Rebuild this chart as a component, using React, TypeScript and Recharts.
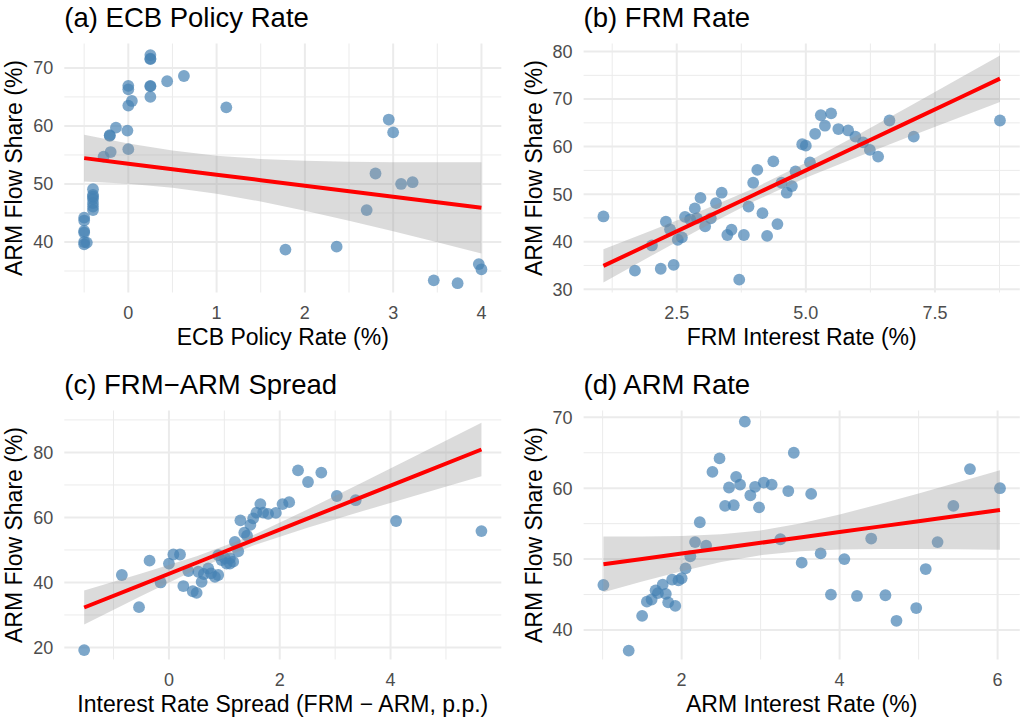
import React from 'react';
import { ComposedChart, Scatter, Area, Line, XAxis, YAxis, CartesianGrid } from 'recharts';

const FONT = '"Liberation Sans", Arial, Helvetica, sans-serif';

// ---------- Panel (a) ECB Policy Rate ----------
const aX = [-0.5, -0.5, -0.5, -0.5, -0.5, -0.5, -0.47, -0.4, -0.4, -0.4, -0.4, -0.4, -0.4, -0.4, -0.28, -0.2, -0.21, -0.21, -0.14, -0.01, 0, 0, 0.04, 0, 0, 0.25, 0.25, 0.25, 0.25, 0.25, 0.25, 0.44, 0.63, 1.11, 1.78, 2.36, 2.7, 2.8, 2.95, 3.0, 3.09, 3.22, 3.46, 3.73, 3.97, 4.0];
const aY = [44.2, 43.7, 41.9, 41.6, 40.0, 39.6, 39.9, 49.1, 48.1, 47.8, 47.4, 46.7, 46.1, 45.5, 54.7, 55.5, 58.3, 58.4, 59.7, 59.2, 56.0, 63.5, 64.3, 66.3, 66.9, 65.0, 66.8, 66.9, 71.5, 71.6, 72.2, 67.7, 68.6, 63.2, 38.7, 39.2, 45.5, 51.8, 61.1, 58.9, 50.0, 50.3, 33.4, 32.9, 36.2, 35.3];
const aBandX = [-0.5, 0, 0.5, 1, 1.5, 2, 2.5, 3, 3.5, 4];
const aBandLo = [50.43, 50.03, 49.35, 48.33, 46.98, 45.4, 43.66, 41.84, 39.96, 38.04];
const aBandHi = [58.47, 56.97, 55.75, 54.87, 54.32, 54.0, 53.84, 53.76, 53.74, 53.76];
const aFit = [54.45, 53.5, 52.55, 51.6, 50.65, 49.7, 48.75, 47.8, 46.85, 45.9];
const aXTicks = [0, 1, 2, 3, 4];
const aXTickLabels = ['0', '1', '2', '3', '4'];
const aXMinor = [-0.5, 0.5, 1.5, 2.5, 3.5];
const aYTicks = [40, 50, 60, 70];
const aYMinor = [35, 45, 55, 65];

// ---------- Panel (b) FRM Rate ----------
const bX = [1.08, 1.69, 2.02, 2.19, 2.29, 2.37, 2.44, 2.52, 2.6, 2.66, 2.76, 2.85, 2.89, 2.96, 3.05, 3.16, 3.26, 3.37, 3.48, 3.56, 3.71, 3.8, 3.89, 3.98, 4.06, 4.16, 4.25, 4.37, 4.45, 4.53, 4.63, 4.73, 4.8, 4.93, 5.0, 5.08, 5.18, 5.29, 5.37, 5.49, 5.63, 5.82, 5.96, 6.11, 6.24, 6.4, 6.62, 7.09, 8.76];
const bY = [45.3, 33.9, 39.2, 34.3, 44.2, 42.6, 35.1, 40.4, 40.9, 45.2, 44.7, 47.0, 44.9, 49.2, 43.2, 44.9, 48.1, 50.3, 41.4, 42.5, 32.0, 41.4, 47.4, 52.4, 55.1, 46.0, 41.2, 56.9, 43.7, 52.4, 50.3, 51.7, 54.8, 60.5, 60.2, 56.7, 62.7, 66.6, 64.4, 67.0, 63.7, 63.4, 62.1, 60.9, 59.3, 57.9, 65.5, 62.1, 65.5];
const bBandX = [1.08, 2, 3, 4, 5, 6, 7, 8, 8.76];
const bBandLo = [31.4, 36.97, 42.91, 48.51, 53.43, 57.84, 62.08, 66.25, 69.4];
const bBandHi = [38.4, 42.27, 46.59, 51.25, 56.59, 62.44, 68.46, 74.55, 79.2];
const bFit = [34.9, 39.62, 44.75, 49.88, 55.01, 60.14, 65.27, 70.4, 74.3];
const bXTicks = [2.5, 5, 7.5];
const bXTickLabels = ['2.5', '5.0', '7.5'];
const bXMinor = [1.25, 3.75, 6.25, 8.75];
const bYTicks = [30, 40, 50, 60, 70, 80];
const bYMinor = [35, 45, 55, 65, 75];

// ---------- Panel (c) FRM–ARM Spread ----------
const cX = [-1.53, -0.85, -0.54, -0.35, -0.15, 0.0, 0.08, 0.2, 0.26, 0.35, 0.43, 0.5, 0.53, 0.59, 0.63, 0.71, 0.76, 0.83, 0.89, 0.89, 0.95, 1.01, 1.04, 1.1, 1.16, 1.1, 1.19, 1.25, 1.29, 1.36, 1.41, 1.47, 1.52, 1.58, 1.65, 1.7, 1.79, 1.93, 2.05, 2.17, 2.33, 2.51, 2.75, 3.03, 3.37, 4.1, 5.64];
const cY = [19.2, 42.3, 32.4, 46.7, 40.0, 45.8, 48.6, 48.6, 38.9, 43.5, 37.3, 36.8, 43.3, 40.2, 42.6, 44.3, 42.8, 41.7, 42.3, 48.4, 46.9, 47.4, 45.8, 45.8, 46.4, 47.4, 52.5, 49.6, 59.1, 55.3, 54.4, 57.7, 59.7, 61.5, 64.1, 61.5, 61.1, 61.4, 64.1, 64.7, 74.5, 70.9, 73.8, 66.6, 65.3, 58.9, 55.8];
const cBandX = [-1.53, -0.5, 0.5, 1.5, 2.5, 3.5, 4.5, 5.64];
const cBandLo = [27.1, 35.83, 44.08, 51.25, 56.83, 61.97, 67.0, 72.7];
const cBandHi = [37.5, 42.73, 48.04, 54.43, 62.41, 70.83, 79.34, 89.1];
const cFit = [32.3, 39.28, 46.06, 52.84, 59.62, 66.4, 73.17, 80.9];
const cXTicks = [0, 2, 4];
const cXTickLabels = ['0', '2', '4'];
const cXMinor = [-1, 1, 3, 5];
const cYTicks = [20, 40, 60, 80];
const cYMinor = [30, 50, 70, 90];

// ---------- Panel (d) ARM Rate ----------
const dX = [1.01, 1.33, 1.5, 1.56, 1.62, 1.67, 1.7, 1.76, 1.8, 1.83, 1.88, 1.92, 1.96, 2.0, 2.05, 2.11, 2.17, 2.23, 2.31, 2.39, 2.48, 2.55, 2.6, 2.66, 2.69, 2.74, 2.8, 2.87, 2.93, 2.98, 3.04, 3.14, 3.25, 3.35, 3.42, 3.52, 3.64, 3.76, 3.89, 4.06, 4.22, 4.4, 4.58, 4.72, 4.97, 5.09, 5.24, 5.44, 5.65, 6.03];
const dY = [46.35, 37.1, 42.0, 44.0, 44.3, 45.6, 45.2, 46.4, 45.1, 43.9, 47.1, 43.4, 47.0, 47.3, 48.7, 50.4, 52.4, 55.2, 51.9, 62.3, 64.2, 57.5, 60.1, 57.6, 61.6, 60.5, 69.4, 59.0, 60.2, 57.3, 60.8, 60.5, 52.8, 59.6, 65.0, 49.5, 59.2, 50.8, 45.0, 50.0, 44.8, 52.9, 44.9, 41.3, 43.1, 48.6, 52.4, 57.5, 62.7, 60.0];
const dBandX = [1.01, 1.5, 2, 2.5, 3, 3.5, 4, 4.5, 5, 5.5, 6.03];
const dBandLo = [45.34, 46.84, 48.29, 49.58, 50.55, 51.11, 51.35, 51.42, 51.43, 51.39, 51.33];
const dBandHi = [53.2, 53.2, 53.27, 53.5, 54.05, 55.01, 56.29, 57.74, 59.27, 60.83, 62.53];
const dFit = [49.27, 50.02, 50.78, 51.54, 52.3, 53.06, 53.82, 54.58, 55.35, 56.11, 56.93];
const dXTicks = [2, 4, 6];
const dXTickLabels = ['2', '4', '6'];
const dXMinor = [1, 3, 5];
const dYTicks = [40, 50, 60, 70];
const dYMinor = [45, 55, 65];

type Cfg = {
  title: string;
  xLabel: string;
  yLabel: string;
  xs: number[];
  ys: number[];
  bandX: number[];
  bandLo: number[];
  bandHi: number[];
  fit: number[];
  xDomain: [number, number];
  yDomain: [number, number];
  xTicks: number[];
  xTickLabels: string[];
  xMinor: number[];
  yTicks: number[];
  yMinor: number[];
};

const panels: Cfg[] = [
  { title: '(a) ECB Policy Rate', xLabel: 'ECB Policy Rate (%)', yLabel: 'ARM Flow Share (%)', xs: aX, ys: aY, bandX: aBandX, bandLo: aBandLo, bandHi: aBandHi, fit: aFit, xDomain: [-0.725, 4.225], yDomain: [31.3, 74.2], xTicks: aXTicks, xTickLabels: aXTickLabels, xMinor: aXMinor, yTicks: aYTicks, yMinor: aYMinor },
  { title: '(b) FRM Rate', xLabel: 'FRM Interest Rate (%)', yLabel: 'ARM Flow Share (%)', xs: bX, ys: bY, bandX: bBandX, bandLo: bBandLo, bandHi: bBandHi, fit: bFit, xDomain: [0.696, 9.144], yDomain: [29.3, 81.7], xTicks: bXTicks, xTickLabels: bXTickLabels, xMinor: bXMinor, yTicks: bYTicks, yMinor: bYMinor },
  { title: '(c) FRM\u2212ARM Spread', xLabel: 'Interest Rate Spread (FRM \u2212 ARM, p.p.)', yLabel: 'ARM Flow Share (%)', xs: cX, ys: cY, bandX: cBandX, bandLo: cBandLo, bandHi: cBandHi, fit: cFit, xDomain: [-1.8885, 5.9985], yDomain: [16.3, 92.9], xTicks: cXTicks, xTickLabels: cXTickLabels, xMinor: cXMinor, yTicks: cYTicks, yMinor: cYMinor },
  { title: '(d) ARM Rate', xLabel: 'ARM Interest Rate (%)', yLabel: 'ARM Flow Share (%)', xs: dX, ys: dY, bandX: dBandX, bandLo: dBandLo, bandHi: dBandHi, fit: dFit, xDomain: [0.759, 6.281], yDomain: [35.84, 70.96], xTicks: dXTicks, xTickLabels: dXTickLabels, xMinor: dXMinor, yTicks: dYTicks, yMinor: dYMinor },
];

// layout of each panel: box position and plot-area rectangle (page coords)
const boxes = [
  { left: 0, top: 0, w: 511, h: 366, plotL: 64.3, plotR: 501.3, plotT: 43.5, plotB: 292.5 },
  { left: 511, top: 0, w: 511, h: 366, plotL: 583.6, plotR: 1019.8, plotT: 43.5, plotB: 292.5 },
  { left: 0, top: 366, w: 511, h: 355, plotL: 64.3, plotR: 501.3, plotT: 410.5, plotB: 659.5 },
  { left: 511, top: 366, w: 511, h: 355, plotL: 583.6, plotR: 1019.8, plotT: 410.5, plotB: 659.5 },
];

const X_AXIS_H = 30;
const Y_AXIS_W = 40;
const GRID = '#ebebeb';

const Dot = (props: any) => {
  const { cx, cy } = props;
  if (cx == null || cy == null) return <g />;
  return <circle cx={cx} cy={cy} r={5.9} fill="#4682B4" fillOpacity={0.7} stroke="none" />;
};

function Panel({ cfg, box }: { cfg: Cfg; box: (typeof boxes)[number] }) {
  const pts = cfg.xs.map((x, i) => ({ x, y: cfg.ys[i] }));
  const band = cfg.bandX.map((x, i) => ({ x, band: [cfg.bandLo[i], cfg.bandHi[i]] }));
  const fitData = cfg.bandX.map((x, i) => ({ x, fit: cfg.fit[i] }));
  const margin = {
    left: box.plotL - box.left - Y_AXIS_W,
    right: box.left + box.w - box.plotR,
    top: box.plotT - box.top,
    bottom: box.top + box.h - box.plotB - X_AXIS_H,
  };
  const xTick = (p: any) => {
    const idx = cfg.xTicks.indexOf(p.payload.value);
    const label = idx >= 0 ? cfg.xTickLabels[idx] : String(p.payload.value);
    return (
      <text x={p.x} y={p.y + 26} textAnchor="middle" fontSize={18} fill="#4d4d4d" fontFamily={FONT}>
        {label}
      </text>
    );
  };
  const yTick = (p: any) => (
    <text x={p.x - 11} y={p.y + 6.4} textAnchor="end" fontSize={18} fill="#4d4d4d" fontFamily={FONT}>
      {p.payload.value}
    </text>
  );
  return (
    <div style={{ position: 'absolute', left: box.left, top: box.top, width: box.w, height: box.h }}>
      <ComposedChart width={box.w} height={box.h} margin={margin}>
        <CartesianGrid
          stroke={GRID}
          strokeWidth={1}
          horizontalValues={cfg.yMinor}
          verticalValues={cfg.xMinor}
        />
        <CartesianGrid
          stroke={GRID}
          strokeWidth={2}
          horizontalValues={cfg.yTicks}
          verticalValues={cfg.xTicks}
        />
        <XAxis
          type="number"
          dataKey="x"
          domain={cfg.xDomain}
          ticks={cfg.xTicks}
          interval={0}
          allowDataOverflow
          axisLine={false}
          tickLine={false}
          tickSize={0}
          tickMargin={0}
          height={X_AXIS_H}
          tick={xTick}
        />
        <YAxis
          type="number"
          dataKey="y"
          domain={cfg.yDomain}
          ticks={cfg.yTicks}
          interval={0}
          allowDataOverflow
          axisLine={false}
          tickLine={false}
          tickSize={0}
          tickMargin={0}
          width={Y_AXIS_W}
          tick={yTick}
        />
        <Scatter data={pts} shape={Dot} isAnimationActive={false} zIndex={50} />
        <Area
          data={band}
          dataKey="band"
          type="linear"
          stroke="none"
          fill="#999999"
          fillOpacity={0.35}
          dot={false}
          activeDot={false}
          isAnimationActive={false}
          zIndex={100}
        />
        <Line
          data={fitData}
          dataKey="fit"
          type="linear"
          stroke="#ff0000"
          strokeWidth={4}
          dot={false}
          activeDot={false}
          isAnimationActive={false}
          zIndex={400}
        />
      </ComposedChart>
    </div>
  );
}

export default function App() {
  return (
    <div style={{ position: 'absolute', left: 0, top: 0, width: 1022, height: 721, background: '#fff', overflow: 'hidden' }}>
      {panels.map((cfg, i) => (
        <Panel key={i} cfg={cfg} box={boxes[i]} />
      ))}
      <svg
        width={1022}
        height={721}
        style={{ position: 'absolute', left: 0, top: 0, pointerEvents: 'none' }}
        fontFamily={FONT}
      >
        {panels.map((cfg, i) => {
          const b = boxes[i];
          const cx = (b.plotL + b.plotR) / 2;
          const cy = (b.plotT + b.plotB) / 2;
          const yx = b.plotL - 42;
          return (
            <g key={i}>
              <text x={b.plotL} y={b.plotT - 16.5} fontSize={27.5} fill="#000">
                {cfg.title}
              </text>
              <text x={cx} y={b.plotB + 52.5} fontSize={23} fill="#000" textAnchor="middle">
                {cfg.xLabel}
              </text>
              <text
                x={yx}
                y={cy}
                fontSize={23}
                fill="#000"
                textAnchor="middle"
                transform={`rotate(-90, ${yx}, ${cy})`}
              >
                {cfg.yLabel}
              </text>
            </g>
          );
        })}
      </svg>
    </div>
  );
}
